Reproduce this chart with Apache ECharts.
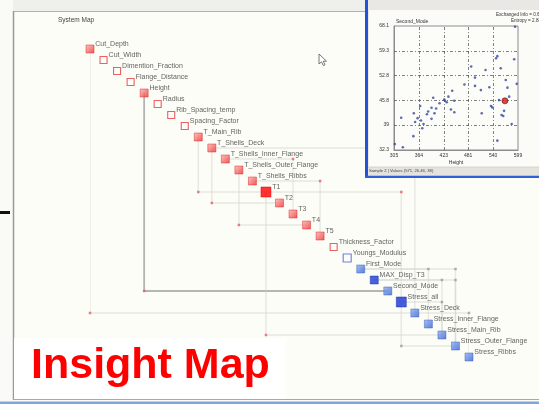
<!DOCTYPE html>
<html><head><meta charset="utf-8">
<script src="https://cdn.jsdelivr.net/npm/echarts@6/dist/echarts.min.js"></script>
<style>html,body{margin:0;padding:0;background:#fdfdf7}#c{width:539px;height:404px}</style>
</head><body><div id="c"></div><script>
// ---- system map: variables along the diagonal ----
const nodeNames = ['Cut_Depth','Cut_Width','Dimention_Fraction','Flange_Distance','Height','Radius',
  'Rib_Spacing_temp','Spacing_Factor','T_Main_Rib','T_Shells_Deck','T_Shells_Inner_Flange',
  'T_Shells_Outer_Flange','T_Shells_Ribbs','T1','T2','T3','T4','T5','Thickness_Factor',
  'Youngs_Modulus','First_Mode','MAX_Disp_T3','Second_Mode','Stress_all','Stress_Deck',
  'Stress_Inner_Flange','Stress_Main_Rib','Stress_Outer_Flange','Stress_Ribbs'];
const nodeKinds = ['red','open','open','open','red','open','open','open','red','red','red','red','red',
  'hot','red','red','red','red','open','openBlue','blue','deepBlue','blue','hotBlue','blue',
  'blue','blue','blue','blue'];
// [source, target, route, tone]; 'down' = vertical first, 'across' = horizontal first
const links = [
  [0, 24, 'down', 'pale'],
  [4, 22, 'down', 'dark'],
  [8, 13, 'down', 'pale'],
  [9, 14, 'down', 'pale'],
  [10, 15, 'across', 'pale'],
  [11, 16, 'down', 'pale'],
  [12, 17, 'across', 'pale'],
  [9, 24, 'across', 'pale'],
  [13, 23, 'across', 'pale'],
  [13, 26, 'down', 'pale'],
  [23, 27, 'down', 'pale'],
  [20, 25, 'across', 'pale'],
  [20, 27, 'across', 'pale'],
  [21, 26, 'across', 'pale'],
  [21, 27, 'across', 'pale'],
  [23, 26, 'across', 'pale'],
  [24, 28, 'across', 'pale']
];

// ---- inset scatter: Second_Mode against Height ----
const sampleX = [307,326,322,351,352,355,361,367,369,372,375,383,386,394,394,398,401,405,413,424,426,430,434,440,443,448,448,472,488,497,497,511,513,522,531,535,538,547,550,550,554,558,560,564,566,570,574,578,584,590,592,596];
const sampleY = [34.0,33.1,41.6,36.3,42.9,40.4,41.5,45.0,40.8,38.6,39.8,42.6,43.4,41.3,44.5,47.4,42.9,44.3,45.8,46.9,46.5,46.1,47.7,44.0,49.4,46.5,43.2,51.2,56.4,53.2,50.8,49.6,42.9,55.4,50.4,45.0,44.6,58.8,59.4,35.0,46.7,55.9,42.4,42.1,43.6,52.5,50.3,47.7,39.8,58.5,67.9,51.4];
const pickedX = [568];
const pickedY = [46.5];
const xTicks = [305, 364, 423, 481, 540, 599];
const yTicks = [32.3, 39.5, 46.6, 53.8, 60.9, 68.1];
const yTickLabels = ['32.3', '39', '45.8', '52.8', '59.3', '68.1'];

const kindStyle = {
  red: {size: 8, style: {color: new echarts.graphic.LinearGradient(0,0,1,1,[{offset:0,color:'#ffb4b4'},{offset:1,color:'#ec2b2b'}]), borderColor:'#d42a2a', borderWidth:0.6}},
  hot: {size: 10, style: {color:'#ff0000', borderColor:'#e00000', borderWidth:0.6}},
  open: {size: 7, style: {color:'#fffdfd', borderColor:'#e33a3a', borderWidth:1.1}},
  openBlue: {size: 8, style: {color:'#fdfdff', borderColor:'#4a5fcf', borderWidth:1.1}},
  blue: {size: 8, style: {color: new echarts.graphic.LinearGradient(0,0,1,1,[{offset:0,color:'#93b2f0'},{offset:1,color:'#2f5fd0'}]), borderColor:'#3a5cc4', borderWidth:0.6}},
  deepBlue: {size: 8, style: {color:'#1d3ccf', borderColor:'#1530b0', borderWidth:0.6}},
  hotBlue: {size: 10, style: {color:'#1733d6', borderColor:'#0f28b0', borderWidth:0.6}}
};
const toneStyle = {
  pale: {color:'#d3d3cf', width:1.4},
  dark: {color:'#6e6e6e', width:1.8}
};
const redKinds = ['red','hot','open'];

const linkData = links.map(([s, t, route, tone]) => {
  const bend = route === 'down' ? [s, t] : [t, s];
  return {coords: [[s, s], bend, [t, t]], lineStyle: toneStyle[tone]};
});
const cornerData = links.map(([s, t, route]) => ({
  value: route === 'down' ? [s, t] : [t, s],
  itemStyle: {color: redKinds.includes(nodeKinds[s]) ? '#e26060' : '#9a9a9a'}
}));
const nodeData = nodeNames.map((name, i) => ({
  name, value: [i, i],
  symbolSize: kindStyle[nodeKinds[i]].size,
  itemStyle: kindStyle[nodeKinds[i]].style
}));

// dash-dot reference lines of the inset at the inner tick positions
const xMin = xTicks[0], xMax = xTicks[xTicks.length - 1];
const yMin = yTicks[0], yMax = yTicks[yTicks.length - 1];
const insetGrid = xTicks.slice(1, -1).map(v => ({coords: [[v, yMin], [v, yMax]]}))
  .concat(yTicks.slice(1, -1).map(v => ({coords: [[xMin, v], [xMax, v]]})));

const font = '"Liberation Sans", Arial, sans-serif';
const chart = echarts.init(document.getElementById('c'));
chart.setOption({
  backgroundColor: '#fdfdf7',
  animation: false,
  grid: [
    {left: 90, top: 49, width: 379, height: 308, show: false},
    {left: 394, top: 26, width: 124, height: 124, show: true, z: 6,
     backgroundColor: '#fcfcf9', borderColor: '#8c8c8c', borderWidth: 1}
  ],
  xAxis: [
    {gridIndex: 0, type: 'value', min: 0, max: 28, show: false},
    {gridIndex: 1, type: 'value', min: xMin, max: xMax, z: 10,
     axisLine: {show: true, onZero: false, lineStyle: {color: '#8c8c8c'}},
     axisTick: {show: false}, splitLine: {show: false},
     axisLabel: {customValues: xTicks, fontSize: 5, color: '#333', margin: 3, fontFamily: font},
     name: 'Height', nameLocation: 'middle', nameGap: 10,
     nameTextStyle: {fontSize: 5, color: '#333', fontFamily: font}}
  ],
  yAxis: [
    {gridIndex: 0, type: 'value', min: 0, max: 28, inverse: true, show: false},
    {gridIndex: 1, type: 'value', min: yMin, max: yMax, z: 10,
     axisLine: {show: true, onZero: false, lineStyle: {color: '#8c8c8c'}},
     axisTick: {show: false}, splitLine: {show: false},
     axisLabel: {customValues: yTicks, fontSize: 5, color: '#333', margin: 5, fontFamily: font,
       formatter: v => yTickLabels[yTicks.indexOf(v)] ?? ''}}
  ],
  series: [
    {type: 'lines', coordinateSystem: 'cartesian2d', xAxisIndex: 0, yAxisIndex: 0,
     polyline: true, z: 2, silent: true, data: linkData},
    {type: 'scatter', xAxisIndex: 0, yAxisIndex: 0, symbol: 'rect', symbolSize: 2.5,
     z: 3, silent: true, data: cornerData},
    {type: 'scatter', xAxisIndex: 0, yAxisIndex: 0, symbol: 'rect', z: 4, data: nodeData,
     label: {show: true, position: 'right', distance: 1, offset: [0, -5],
       formatter: p => p.name, fontSize: 7, color: '#3a3a3a', fontFamily: font}},
    {type: 'lines', coordinateSystem: 'cartesian2d', xAxisIndex: 1, yAxisIndex: 1,
     z: 11, silent: true, data: insetGrid,
     lineStyle: {color: '#4a4a4a', width: 0.7, type: [3, 2, 1, 2], opacity: 1}},
    {type: 'scatter', xAxisIndex: 1, yAxisIndex: 1, z: 12, symbolSize: 2.6,
     itemStyle: {color: '#34479f'},
     data: sampleX.map((x, i) => [x, sampleY[i]])},
    {type: 'scatter', xAxisIndex: 1, yAxisIndex: 1, z: 13, symbolSize: 6,
     itemStyle: {color: '#d01818', borderColor: '#7a1010', borderWidth: 0.8},
     data: pickedX.map((x, i) => [x, pickedY[i]])}
  ],
  graphic: [
    // main window frame
    {type: 'rect', z: 0, shape: {x: 0, y: 0, width: 539, height: 11}, style: {fill: '#efefec'}},
    {type: 'rect', z: 0, shape: {x: 0, y: 0, width: 13, height: 404}, style: {fill: '#fafaf6'}},
    {type: 'line', z: 1, shape: {x1: 13, y1: 11.5, x2: 539, y2: 11.5}, style: {stroke: '#b0b0ac', lineWidth: 1}},
    {type: 'line', z: 1, shape: {x1: 13.5, y1: 11, x2: 13.5, y2: 400}, style: {stroke: '#9a9a96', lineWidth: 1.5}},
    {type: 'line', z: 1, shape: {x1: 13, y1: 399.5, x2: 539, y2: 399.5}, style: {stroke: '#a8a8a4', lineWidth: 1}},
    {type: 'rect', z: 1, shape: {x: 0, y: 401.5, width: 539, height: 2.5}, style: {fill: '#7fa6dc'}},
    {type: 'rect', z: 1, shape: {x: 0, y: 211, width: 10, height: 3}, style: {fill: '#111'}},
    {type: 'text', z: 3, x: 58, y: 17, style: {text: 'System Map', fontSize: 6.5, fill: '#444', fontFamily: font}},
    // mouse pointer
    {type: 'polygon', z: 3, x: 319, y: 54,
     shape: {points: [[0,0],[0,10],[2.5,7.8],[4.3,11.5],[6,10.8],[4.3,7.2],[7.5,7.2]]},
     style: {fill: '#ffffff', stroke: '#555', lineWidth: 0.8}},
    // title block
    {type: 'rect', z: 4, shape: {x: 14, y: 338, width: 272, height: 61}, style: {fill: '#ffffff'}},
    {type: 'text', z: 5, x: 31, y: 345, style: {text: 'Insight Map', fontSize: 43, fontWeight: 'bold',
      fill: '#ff0000', fontFamily: font}},
    // inset window
    {type: 'rect', z: 5, shape: {x: 365, y: 0, width: 174, height: 178}, style: {fill: '#e9e8e4'}},
    {type: 'rect', z: 5, shape: {x: 369, y: 10, width: 170, height: 157}, style: {fill: '#fbfbf8'}},
    {type: 'rect', z: 5, shape: {x: 365, y: 0, width: 3, height: 178}, style: {fill: '#2451d6'}},
    {type: 'rect', z: 5, shape: {x: 365, y: 175.5, width: 174, height: 2.5}, style: {fill: '#2f5fd8'}},
    {type: 'rect', z: 5, shape: {x: 368, y: 167, width: 171, height: 8.5}, style: {fill: '#e4e3de'}},
    {type: 'line', z: 5, shape: {x1: 368, y1: 167, x2: 539, y2: 167}, style: {stroke: '#c4c4c0', lineWidth: 0.6}},
    {type: 'text', z: 7, x: 369, y: 169, style: {text: 'Sample 2 | Values (571, 26.46, 38)', fontSize: 4.2, fill: '#444', fontFamily: font}},
    {type: 'text', z: 7, x: 396, y: 19.5, style: {text: 'Second_Mode', fontSize: 5, fill: '#333', fontFamily: font}},
    {type: 'text', z: 7, x: 496, y: 12.5, style: {text: 'Exchanged Info = 0.63', fontSize: 4.6, fill: '#333', fontFamily: font}},
    {type: 'text', z: 7, x: 511, y: 18.5, style: {text: 'Entropy = 2.88', fontSize: 4.6, fill: '#333', fontFamily: font}}
  ]
});
</script></body></html>
